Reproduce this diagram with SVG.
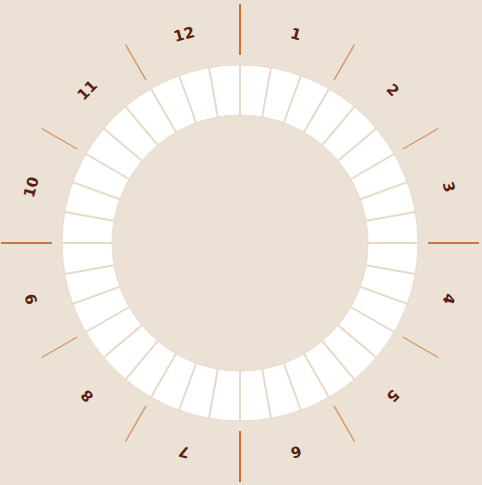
<svg xmlns="http://www.w3.org/2000/svg" xmlns:xlink="http://www.w3.org/1999/xlink" width="482" height="485" viewBox="0 0 482 485">
<style>
.div{stroke:#e8d9c8;stroke-width:2}
.major{stroke:#b9580c;stroke-width:1.6}
.minor{stroke:#d29461;stroke-width:1.3}
.lbl{font-family:"DejaVu Sans","Liberation Sans",sans-serif;font-weight:bold;font-size:15px;fill:#5a200f;text-anchor:middle;dominant-baseline:central}
</style>
<defs>
<line id="dv" class="div" x1="240" y1="115" x2="240" y2="65"/>
<line id="mj" class="major" x1="240" y1="4" x2="240" y2="55"/>
<line id="mn" class="minor" x1="240" y1="14" x2="240" y2="55"/>
</defs>
<rect width="482" height="485" fill="#ebe1d5"/>
<g id="ring">
<circle cx="240" cy="243" r="153" fill="none" stroke="#ffffff" stroke-width="50"/>
<circle cx="240" cy="243" r="178" fill="none" stroke="#eadbcb" stroke-width="1"/>
<circle cx="240" cy="243" r="128" fill="none" stroke="#eadbcb" stroke-width="1"/>
<use xlink:href="#dv"/>
<use xlink:href="#dv" transform="rotate(10 240 243)"/>
<use xlink:href="#dv" transform="rotate(20 240 243)"/>
<use xlink:href="#dv" transform="rotate(30 240 243)"/>
<use xlink:href="#dv" transform="rotate(40 240 243)"/>
<use xlink:href="#dv" transform="rotate(50 240 243)"/>
<use xlink:href="#dv" transform="rotate(60 240 243)"/>
<use xlink:href="#dv" transform="rotate(70 240 243)"/>
<use xlink:href="#dv" transform="rotate(80 240 243)"/>
<use xlink:href="#dv" transform="rotate(90 240 243)"/>
<use xlink:href="#dv" transform="rotate(100 240 243)"/>
<use xlink:href="#dv" transform="rotate(110 240 243)"/>
<use xlink:href="#dv" transform="rotate(120 240 243)"/>
<use xlink:href="#dv" transform="rotate(130 240 243)"/>
<use xlink:href="#dv" transform="rotate(140 240 243)"/>
<use xlink:href="#dv" transform="rotate(150 240 243)"/>
<use xlink:href="#dv" transform="rotate(160 240 243)"/>
<use xlink:href="#dv" transform="rotate(170 240 243)"/>
<use xlink:href="#dv" transform="rotate(180 240 243)"/>
<use xlink:href="#dv" transform="rotate(190 240 243)"/>
<use xlink:href="#dv" transform="rotate(200 240 243)"/>
<use xlink:href="#dv" transform="rotate(210 240 243)"/>
<use xlink:href="#dv" transform="rotate(220 240 243)"/>
<use xlink:href="#dv" transform="rotate(230 240 243)"/>
<use xlink:href="#dv" transform="rotate(240 240 243)"/>
<use xlink:href="#dv" transform="rotate(250 240 243)"/>
<use xlink:href="#dv" transform="rotate(260 240 243)"/>
<use xlink:href="#dv" transform="rotate(270 240 243)"/>
<use xlink:href="#dv" transform="rotate(280 240 243)"/>
<use xlink:href="#dv" transform="rotate(290 240 243)"/>
<use xlink:href="#dv" transform="rotate(300 240 243)"/>
<use xlink:href="#dv" transform="rotate(310 240 243)"/>
<use xlink:href="#dv" transform="rotate(320 240 243)"/>
<use xlink:href="#dv" transform="rotate(330 240 243)"/>
<use xlink:href="#dv" transform="rotate(340 240 243)"/>
<use xlink:href="#dv" transform="rotate(350 240 243)"/>
</g>
<g id="ticks">
<use xlink:href="#mj"/>
<use xlink:href="#mj" transform="rotate(90 240 243)"/>
<use xlink:href="#mj" transform="rotate(180 240 243)"/>
<use xlink:href="#mj" transform="rotate(270 240 243)"/>
<use xlink:href="#mn" transform="rotate(30 240 243)"/>
<use xlink:href="#mn" transform="rotate(60 240 243)"/>
<use xlink:href="#mn" transform="rotate(120 240 243)"/>
<use xlink:href="#mn" transform="rotate(150 240 243)"/>
<use xlink:href="#mn" transform="rotate(210 240 243)"/>
<use xlink:href="#mn" transform="rotate(240 240 243)"/>
<use xlink:href="#mn" transform="rotate(300 240 243)"/>
<use xlink:href="#mn" transform="rotate(330 240 243)"/>
</g>
<g id="label-1"><text class="lbl" x="240" y="27" transform="rotate(15 240 243)">1</text></g>
<g id="label-2"><text class="lbl" x="240" y="27" transform="rotate(45 240 243)">2</text></g>
<g id="label-3"><text class="lbl" x="240" y="27" transform="rotate(75 240 243)">3</text></g>
<g id="label-4"><text class="lbl" x="240" y="27" transform="rotate(105 240 243)">4</text></g>
<g id="label-5"><text class="lbl" x="240" y="27" transform="rotate(135 240 243)">5</text></g>
<g id="label-6"><text class="lbl" x="240" y="27" transform="rotate(165 240 243)">6</text></g>
<g id="label-7"><text class="lbl" x="240" y="27" transform="rotate(195 240 243)">7</text></g>
<g id="label-8"><text class="lbl" x="240" y="27" transform="rotate(225 240 243)">8</text></g>
<g id="label-9"><text class="lbl" x="240" y="27" transform="rotate(255 240 243)">9</text></g>
<g id="label-10"><text class="lbl" x="240" y="27" transform="rotate(285 240 243)">10</text></g>
<g id="label-11"><text class="lbl" x="240" y="27" transform="rotate(315 240 243)">11</text></g>
<g id="label-12"><text class="lbl" x="240" y="27" transform="rotate(345 240 243)">12</text></g>
</svg>
